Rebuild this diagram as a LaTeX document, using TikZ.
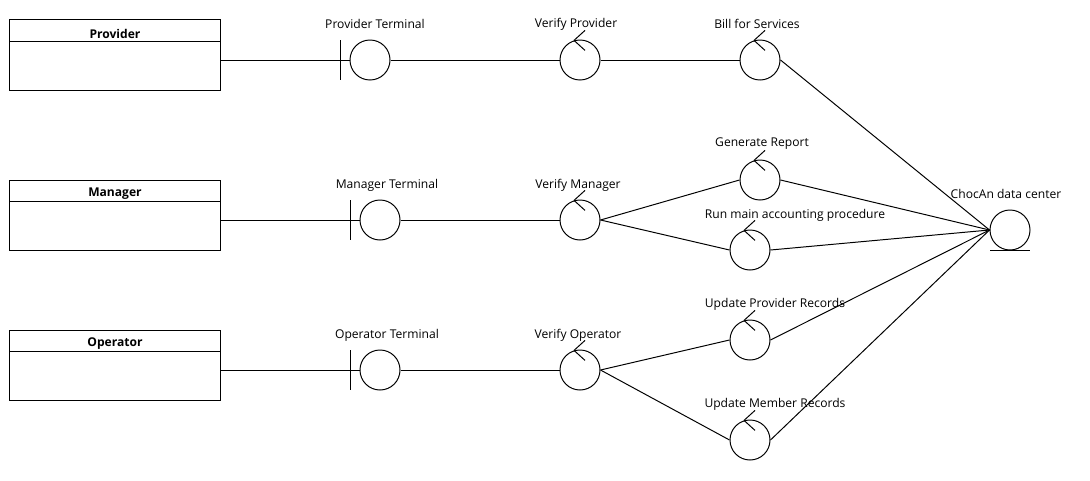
\documentclass[tikz,border=0pt]{standalone}
\usepackage{fontspec}
\setmainfont{Open Sans}
\usetikzlibrary{calc}
\begin{document}
\begin{tikzpicture}[x=0.025cm,y=-0.025cm,line width=0.7pt,
  every node/.style={font=\fontsize{8.6}{10}\selectfont},
  entbox/.style={draw,rectangle,minimum width=5.25cm,minimum height=1.75cm,inner sep=0pt},
  obj/.style={draw,circle,minimum size=1cm,inner sep=0pt},
  lbl/.style={inner sep=0pt,anchor=center}]
\useasboundingbox (0,0) rectangle (1090,480);
\fill[white] (0,0) rectangle (1090,480);
% entities (actors as class boxes)
\node[entbox] (prov) at (115,55) {};
\node[entbox] (man) at (115,215) {};
\node[entbox] (oper) at (115,365) {};
\foreach \n/\t in {prov/Provider,man/Manager,oper/Operator}{
  \draw ($(\n.north west)+(0,22)$) -- ($(\n.north east)+(0,22)$);
  \node[lbl,font=\fontsize{8.6}{10}\selectfont\bfseries] at ($(\n.north)+(0,14)$) {\t};
}
% boundaries
\node[obj] (pt) at (370,60) {};
\node[obj] (mt) at (380,220) {};
\node[obj] (ot) at (380,370) {};
\foreach \n in {pt,mt,ot}{
  \draw ($(\n.west)+(-9,-20)$) -- ($(\n.west)+(-9,20)$);
}
% controls
\node[obj] (vp) at (580,60) {};
\node[obj] (vm) at (580,220) {};
\node[obj] (vo) at (580,370) {};
\node[obj] (bs) at (760,60) {};
\node[obj] (gr) at (760,180) {};
\node[obj] (rm) at (750,250) {};
\node[obj] (up) at (750,340) {};
\node[obj] (um) at (750,440) {};
\foreach \n in {vp,vm,vo,bs,gr,rm,up,um}{
  \draw (\n.107) -- ++(11,-10);
  \draw (\n.107) -- ++(11,10);
}
% entity
\node[obj] (dc) at (1010,230) {};
\draw ($(dc.south)+(-20,0)$) -- ($(dc.south)+(20,0)$);
% labels
\node[lbl] at (375,24) {Provider Terminal};
\node[lbl] at (576,24) {Verify Provider};
\node[lbl] at (757,24) {Bill for Services};
\node[lbl] at (762,144) {Generate Report};
\node[lbl] at (387,185) {Manager Terminal};
\node[lbl] at (578,185) {Verify Manager};
\node[lbl] at (795,215) {Run main accounting procedure};
\node[lbl] at (387,335) {Operator Terminal};
\node[lbl] at (578,335) {Verify Operator};
\node[lbl] at (775,304) {Update Provider Records};
\node[lbl] at (775,404) {Update Member Records};
\node[lbl] at (1006,194) {ChocAn data center};
% connectors
\draw (prov.east |- pt) -- (pt.west);
\draw (man.east |- mt) -- (mt.west);
\draw (oper.east |- ot) -- (ot.west);
\draw (pt.east) -- (vp.west);
\draw (mt.east) -- (vm.west);
\draw (ot.east) -- (vo.west);
\draw (vp.east) -- (bs.west);
\draw (vm.east) -- (gr.west);
\draw (vm.east) -- (rm.west);
\draw (vo.east) -- (up.west);
\draw (vo.east) -- (um.west);
\draw (bs.east) -- (dc.west);
\draw (gr.east) -- (dc.west);
\draw (rm.east) -- (dc.west);
\draw (up.east) -- (dc.west);
\draw (um.east) -- (dc.west);
\end{tikzpicture}
\end{document}
